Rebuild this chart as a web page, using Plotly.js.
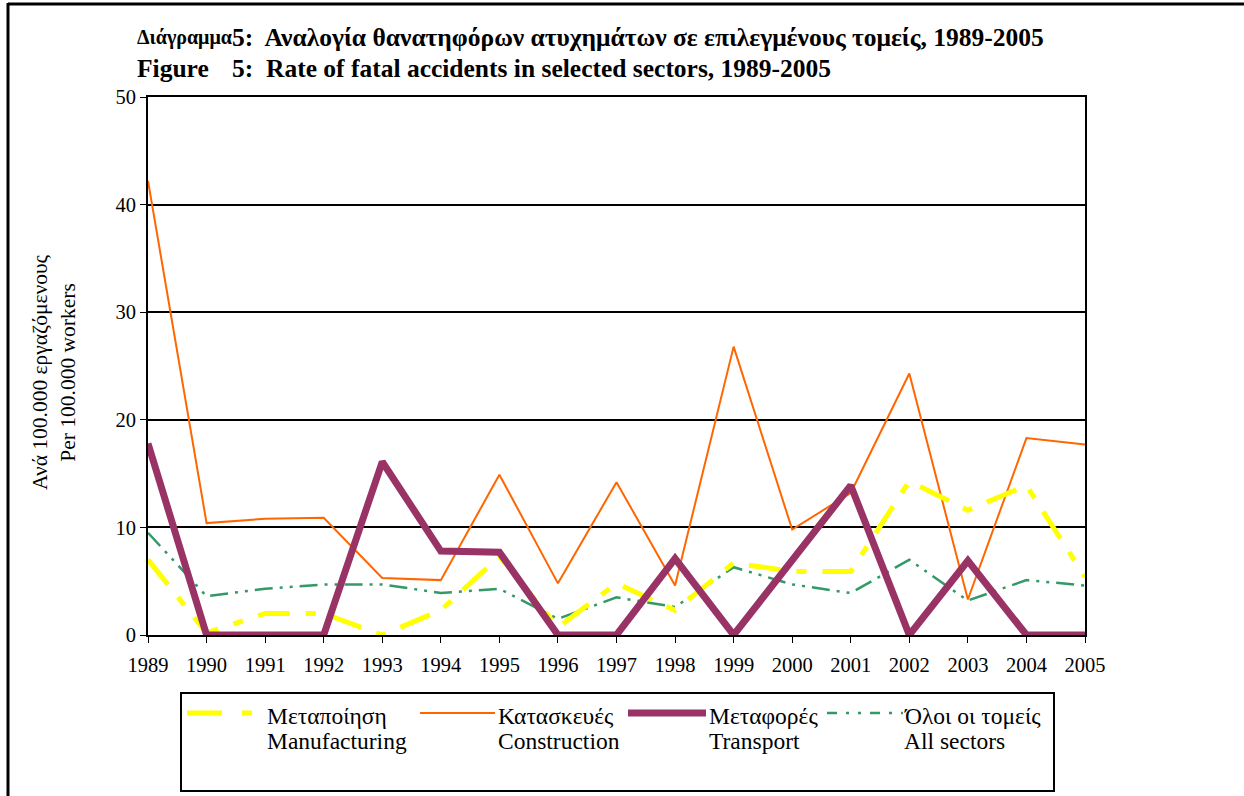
<!DOCTYPE html>
<html>
<head>
<meta charset="utf-8">
<script src="https://cdn.plot.ly/plotly-3.0.1.min.js"></script>
<style>
html,body{margin:0;padding:0;background:#fff;}
#chart{width:1244px;height:796px;}
</style>
</head>
<body>
<div id="chart"></div>
<script>
// ---- data ----
const years = [1989,1990,1991,1992,1993,1994,1995,1996,1997,1998,1999,2000,2001,2002,2003,2004,2005];
const manufacturing = [7.0,0.2,2.0,2.0,0.0,2.3,7.3,0.7,4.8,2.3,6.7,5.9,5.9,14.3,11.6,13.9,5.4];
const construction  = [42.2,10.4,10.8,10.9,5.3,5.1,14.9,4.8,14.2,4.6,26.8,9.8,13.2,24.3,3.3,18.3,17.7];
const transport     = [17.8,0,0,0,16.1,7.8,7.7,0,0,7.1,0,7.0,13.9,0,6.9,0,0];
const allSectors    = [9.5,3.6,4.3,4.7,4.7,3.9,4.3,1.5,3.5,2.6,6.3,4.7,3.9,7.0,3.2,5.1,4.6];
const namesGr = ["Μεταποίηση", "Κατασκευές", "Μεταφορές", "Όλοι οι τομείς"];
const namesEn = ["Manufacturing", "Construction", "Transport", "All sectors"];
const yTicks = [0,10,20,30,40,50];
const titleGr = "Διάγραμμα";
const titleGr2 = "5:  Αναλογία θανατηφόρων ατυχημάτων σε επιλεγμένους τομείς, 1989-2005";
const titleEn = "Figure";
const titleEn2 = "5:  Rate of fatal accidents in selected sectors, 1989-2005";
const yTitle = "Ανά 100.000 εργαζόμενους<br>Per 100.000 workers";

// ---- styles ----
const L = 148, R = 1085, T = 97, B = 635, W = 1244, H = 796;
const X = px => (px - L) / (R - L);
const Y = py => (B - py) / (B - T);
const serif = "Liberation Serif";
const styles = [
  {color:"#FFFF00", width:5, dash:"32px,16px,10px,16px"},
  {color:"#FF6600", width:2, dash:"solid"},
  {color:"#993366", width:7, dash:"solid"},
  {color:"#339966", width:2.5, dash:"18px,7px,3px,7px,3px,7px"}
];
const dataArr = [manufacturing, construction, transport, allSectors];
const order = [1, 3, 0, 2];

const traces = order.map(i => ({
  x: years, y: dataArr[i], type: "scatter", mode: "lines",
  name: namesGr[i] + " / " + namesEn[i], line: Object.assign({}, styles[i]),
  hoverinfo: "x+y+name"
}));

const shapes = [];
const annotations = [];
// outer frame (left and top)
shapes.push({type:"line", xref:"paper", yref:"paper", x0:X(8), x1:X(8), y0:Y(3), y1:Y(800), line:{color:"#000", width:3}});
shapes.push({type:"line", xref:"paper", yref:"paper", x0:X(8), x1:X(1250), y0:Y(4), y1:Y(4), line:{color:"#000", width:3}});
// legend box
shapes.push({type:"rect", xref:"paper", yref:"paper", x0:X(181), x1:X(1054), y0:Y(693), y1:Y(791), line:{color:"#000", width:2}});
const legSym = [[187,252,265],[420,495,496],[628,706,707],[827,903,902]];
const lf = {family:serif, size:23.5, color:"#000"};
for (let i = 0; i < 4; i++) {
  const s = legSym[i];
  shapes.push({type:"line", xref:"paper", yref:"paper", x0:X(s[0]), x1:X(s[1]), y0:Y(713), y1:Y(713),
    line:{color:styles[i].color, width:styles[i].width, dash: i===0 ? "35px,20px,10px,20px" : (i===3 ? "10px,9px,3px,9px,3px,9px" : "solid")}});
  annotations.push({xref:"paper", yref:"paper", x:X(s[2]), y:Y(716), xanchor:"left", yanchor:"middle",
    text: namesGr[i], showarrow:false, align:"left", font:lf});
  annotations.push({xref:"paper", yref:"paper", x:X(s[2]), y:Y(741), xanchor:"left", yanchor:"middle",
    text: namesEn[i], showarrow:false, align:"left", font:lf});
}
// titles
const tf = {family:serif, size:25.5, color:"#000", weight:"bold"};
const tfs = {family:serif, size:20, color:"#000", weight:"bold"};
annotations.push({xref:"paper", yref:"paper", x:X(135), y:Y(37), xanchor:"left", yanchor:"middle", text:"<b>"+titleGr+"</b>", showarrow:false, font:tfs});
annotations.push({xref:"paper", yref:"paper", x:X(230), y:Y(37), xanchor:"left", yanchor:"middle", text:"<b>"+titleGr2+"</b>", showarrow:false, font:tf});
annotations.push({xref:"paper", yref:"paper", x:X(135), y:Y(68), xanchor:"left", yanchor:"middle", text:"<b>"+titleEn+"</b>", showarrow:false, font:tf});
annotations.push({xref:"paper", yref:"paper", x:X(230), y:Y(68), xanchor:"left", yanchor:"middle", text:"<b>"+titleEn2+"</b>", showarrow:false, font:tf});
// y title
annotations.push({xref:"paper", yref:"paper", x:X(54), y:Y(372), xanchor:"center", yanchor:"middle", textangle:-90,
  text:yTitle, showarrow:false, font:{family:serif, size:21.5, color:"#000"}});

const layout = {
  width: W, height: H,
  margin: {l:L, r:W-R, t:T, b:H-B, pad:0},
  paper_bgcolor:"#fff", plot_bgcolor:"#fff",
  showlegend:false,
  xaxis: {
    range:[1989,2005], tickvals: years, ticktext: years.map(String),
    showgrid:false, zeroline:false, showline:true, linecolor:"#000", linewidth:2, mirror:true,
    ticks:"outside", ticklen:6, tickwidth:1, tickcolor:"#000", ticklabelstandoff:4,
    tickfont:{family:serif, size:20.5, color:"#000"}
  },
  yaxis: {
    range:[0,50], tickvals: yTicks, showgrid:true, gridcolor:"#000", gridwidth:2,
    zeroline:false, showline:true, linecolor:"#000", linewidth:2, mirror:true,
    ticks:"outside", ticklen:6, tickwidth:1, tickcolor:"#000",
    tickfont:{family:serif, size:20.5, color:"#000"}
  },
  shapes, annotations
};
Plotly.newPlot("chart", traces, layout, {displayModeBar:false, staticPlot:true});
</script>
</body>
</html>
